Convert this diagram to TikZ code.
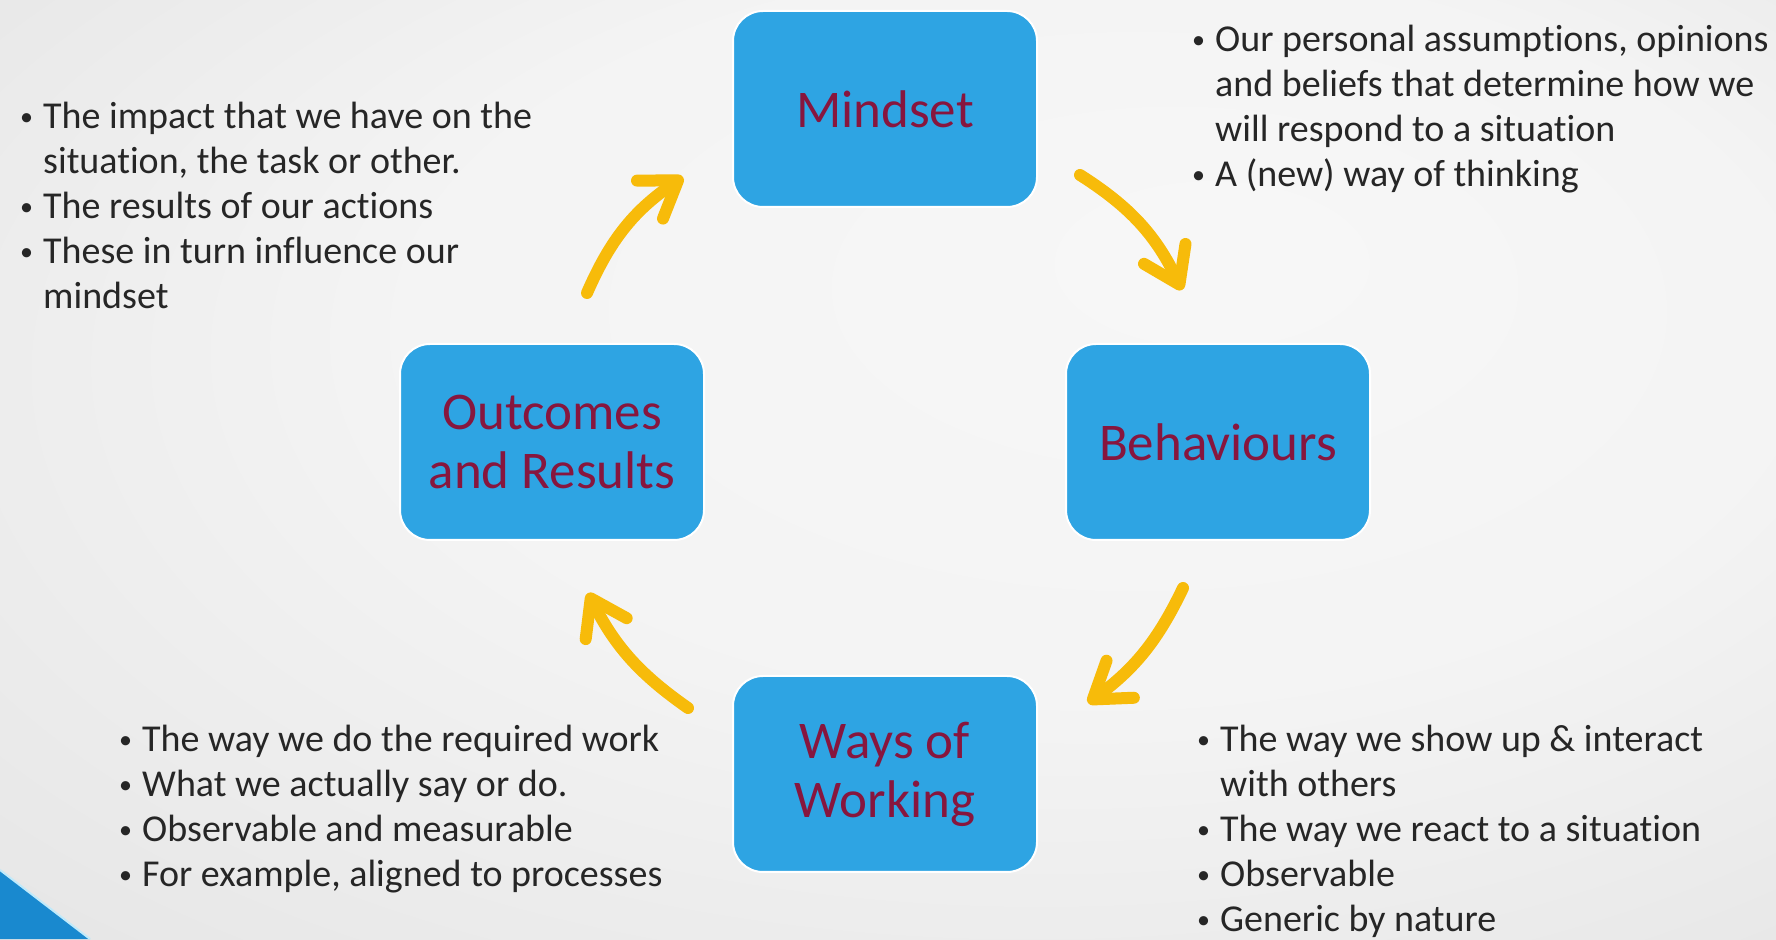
\documentclass[tikz,border=0pt]{standalone}
\usepackage{fontspec}
\setmainfont{Carlito}[Ligatures=NoCommon]
\usepackage{tikz}
\usetikzlibrary{arrows.meta}
\definecolor{boxblue}{RGB}{46,164,227}
\definecolor{boxtext}{RGB}{135,22,62}
\definecolor{arrowgold}{RGB}{247,187,10}
\definecolor{cornerblue}{RGB}{25,137,207}
\definecolor{bodytext}{RGB}{38,38,38}
\pgfdeclareradialshading{paper}{\pgfpoint{10bp}{12bp}}{rgb(0bp)=(0.97,0.97,0.97); rgb(20bp)=(0.955,0.955,0.955); rgb(45bp)=(0.885,0.885,0.885); rgb(50bp)=(0.875,0.875,0.875)}
\newcommand{\bul}{\makebox[25pt][l]{\hspace{2pt}\raisebox{3pt}{\fontsize{26}{26}\selectfont\textbullet}}}

\begin{document}
\begin{tikzpicture}[x=1pt, y=1pt,
  box/.style={rounded corners=30pt, fill=boxblue, draw=white, line width=2pt, minimum width=304pt, minimum height=196pt, align=center, text=boxtext, font=\fontsize{53}{59}\selectfont},
  notes/.style={anchor=base west, inner sep=0pt, text=bodytext, font=\fontsize{38}{45}\selectfont},
  turn/.style={draw=arrowgold, line width=12pt, line cap=round, -{Straight Barb[length=34pt, width=46pt, line join=round, line cap=round]}}]
\useasboundingbox (0,0) rectangle (1776,939);
\shade[shading=paper] (0,0) rectangle (1776,939);
\fill[cornerblue] (0,0) -- (0,69) -- (90,0) -- cycle;
\draw[cyan!25, line width=2pt] (0,69) -- (90,0);
\node[box] (mind) at (885,830) {Mindset};
\node[box] (beh) at (1218,497) {Behaviours};
\node[box] (ways) at (885,165) {Ways of\\Working};
\node[box] (out) at (552,497) {Outcomes\\and Results};
\coordinate (a1s) at (587,646);
\coordinate (a1e) at (683,762);
\coordinate (a2s) at (1080,764);
\coordinate (a2e) at (1182,649);
\coordinate (a3s) at (1183,351);
\coordinate (a3e) at (1088,236);
\coordinate (a4s) at (688,231);
\coordinate (a4e) at (588,346);
\draw[turn] (a1s) to[bend left=16] (a1e);
\draw[turn] (a2s) to[bend left=16] (a2e);
\draw[turn] (a3s) to[bend left=14] (a3e);
\draw[turn] (a4s) to[bend left=14] (a4e);
\node[notes] (impact) at (18,810) {\begin{tabular}[t]{@{}l@{}l@{}}\bul & The impact that we have on the\\ & situation, the task or other.\\ \bul & The results of our actions\\ \bul & These in turn influence our\\ & mindset\end{tabular}};
\node[notes] (beliefs) at (1190,887) {\begin{tabular}[t]{@{}l@{}l@{}}\bul & Our personal assumptions, opinions\\ & and beliefs that determine how we\\ & will respond to a situation\\ \bul & A (new) way of thinking\end{tabular}};
\node[notes] (work) at (117,187) {\begin{tabular}[t]{@{}l@{}l@{}}\bul & The way we do the required work\\ \bul & What we actually say or do.\\ \bul & Observable and measurable\\ \bul & For example, aligned to processes\end{tabular}};
\node[notes] (show) at (1195,187) {\begin{tabular}[t]{@{}l@{}l@{}}\bul & The way we show up \& interact\\ & with others\\ \bul & The way we react to a situation\\ \bul & Observable\\ \bul & Generic by nature\end{tabular}};
\end{tikzpicture}
\end{document}
